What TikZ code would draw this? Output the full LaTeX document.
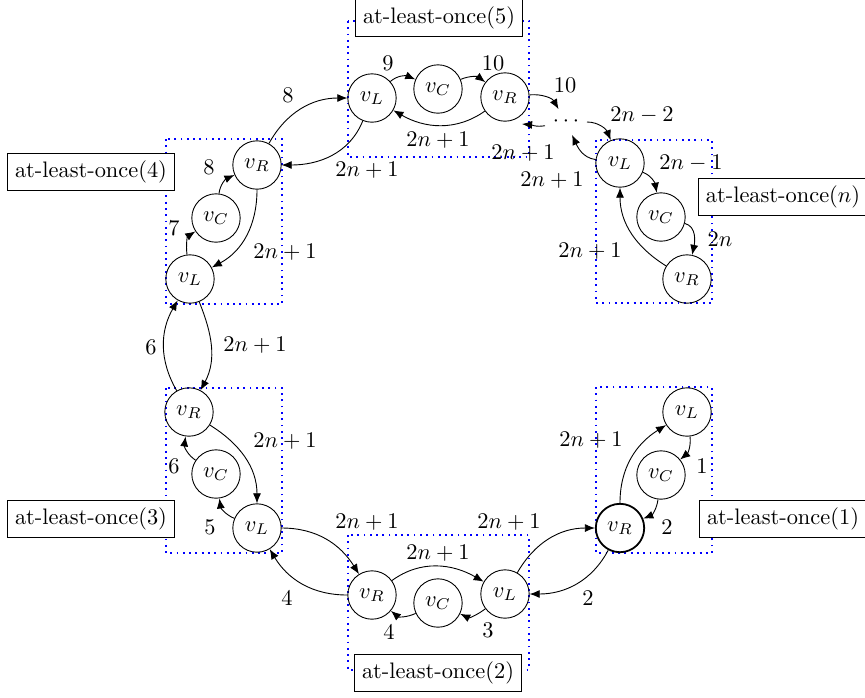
\documentclass[tikz,border=0pt]{standalone}
\usetikzlibrary{arrows.meta}
\begin{document}
\begin{tikzpicture}[x=0.4464pt,y=0.4464pt,
  st/.style={circle,draw,minimum size=21.6pt,inner sep=0pt},
  grp/.style={draw=blue,dotted,thick},
  tag/.style={draw,fill=white,rectangle,inner sep=3.33pt},
  arr/.style={-{Latex[length=4.5pt,width=3.6pt]}},
  lab/.style={inner sep=0pt}]
\useasboundingbox (0,0) rectangle (865,-697);
% group boxes
\draw[grp] (348,-21) rectangle (529,-157);
\draw[grp] (596,-140) rectangle (712,-303);
\draw[grp] (166,-139) rectangle (282,-304);
\draw[grp] (166,-388) rectangle (282,-553);
\draw[grp] (348,-535) rectangle (529,-670);
\draw[grp] (596,-387) rectangle (712,-553);
% tags
\node[tag] (t5) at (439,-18) {at-least-once(5)};
\node[tag] (tn) at (783,-197) {at-least-once($n$)};
\node[tag] (t4) at (91,-172) {at-least-once(4)};
\node[tag] (t3) at (91,-519) {at-least-once(3)};
\node[tag] (t2) at (438,-673) {at-least-once(2)};
\node[tag] (t1) at (783,-519) {at-least-once(1)};
% states
\node[st] (L5) at (372,-98) {$v_L$};
\node[st] (C5) at (438,-89) {$v_C$};
\node[st] (R5) at (505,-97) {$v_R$};
\node (dots) at (566,-122) {$\cdots$};
\node[st] (Ln) at (620,-163) {$v_L$};
\node[st] (Cn) at (661,-217) {$v_C$};
\node[st] (Rn) at (687,-279) {$v_R$};
\node[st] (R4) at (257,-165) {$v_R$};
\node[st] (C4) at (216,-218) {$v_C$};
\node[st] (L4) at (190,-279) {$v_L$};
\node[st] (R3) at (189,-412) {$v_R$};
\node[st] (C3) at (216,-474) {$v_C$};
\node[st] (L3) at (257,-528) {$v_L$};
\node[st] (R2) at (372,-595) {$v_R$};
\node[st] (C2) at (438,-603) {$v_C$};
\node[st] (L2) at (505,-594) {$v_L$};
\node[st,thick] (R1) at (620,-528) {$v_R$};
\node[st] (C1) at (661,-475) {$v_C$};
\node[st] (L1) at (687,-412) {$v_L$};
\coordinate (R5b) at (522,-124);
% group 5
\draw[arr] (L5) to[out=42,in=157] (C5);
\draw[arr] (C5) to[out=23,in=143] (R5);
\draw[arr] (R5) to[out=215,in=-30] (L5);
\draw[arr] (R4) to[out=61,in=180] (L5);
\draw[arr] (L5) to[out=248,in=0] (R4);
\draw[arr] (R5) to[out=5,in=120] (dots);
\draw[arr] (dots) to[out=190,in=-5] (R5b);
\draw[arr] (dots) to[out=0,in=112] (Ln);
\draw[arr] (Ln) to[out=172,in=-65] (dots);
% group n
\draw[arr] (Ln) to[out=-22,in=100] (Cn);
\draw[arr] (Cn) to[out=-15,in=78] (Rn);
\draw[arr] (Rn) to[out=148,in=-90] (Ln);
% group 4
\draw[arr] (L4) to[out=97,in=213] (C4);
\draw[arr] (C4) to[out=83,in=204] (R4);
\draw[arr] (R4) to[out=-90,in=28] (L4);
\draw[arr] (R3) to[out=120,in=240] (L4);
\draw[arr] (L4) to[out=-68,in=62] (R3);
% group 3
\draw[arr] (C3) to[out=146,in=-98] (R3);
\draw[arr] (L3) to[out=157,in=-82] (C3);
\draw[arr] (R3) to[out=-32,in=90] (L3);
\draw[arr] (L3) to[out=0,in=122] (R2);
\draw[arr] (R2) to[out=180,in=-59] (L3);
% group 2
\draw[arr] (R2) to[out=36,in=150] (L2);
\draw[arr] (L2) to[out=217,in=-26] (C2);
\draw[arr] (C2) to[out=205,in=-40] (R2);
\draw[arr] (L2) to[out=60,in=180] (R1);
\draw[arr] (R1) to[out=242,in=0] (L2);
% group 1
\draw[arr] (R1) to[out=90,in=212] (L1);
\draw[arr] (L1) to[out=-83,in=39] (C1);
\draw[arr] (C1) to[out=-97,in=22] (R1);
% labels
\node[lab] (a1) at (388,-63) {$9$};
\node[lab] (a2) at (493,-63) {$10$};
\node[lab] (a3) at (565,-85) {$10$};
\node[lab] (a4) at (438,-140) {$2n+1$};
\node[lab] (a5) at (523,-153) {$2n+1$};
\node[lab] (a6) at (367,-170) {$2n+1$};
\node[lab] (a7) at (642,-115) {$2n-2$};
\node[lab] (a8) at (552,-180) {$2n+1$};
\node[lab] (a9) at (691,-163) {$2n-1$};
\node[lab] (a10) at (720,-239) {$2n$};
\node[lab] (a11) at (590,-251) {$2n+1$};
\node[lab] (a12) at (288,-95) {$8$};
\node[lab] (a13) at (209,-167) {$8$};
\node[lab] (a14) at (174,-228) {$7$};
\node[lab] (a15) at (285,-252) {$2n+1$};
\node[lab] (a16) at (151,-347) {$6$};
\node[lab] (a17) at (255,-345) {$2n+1$};
\node[lab] (a18) at (285,-441) {$2n+1$};
\node[lab] (a19) at (174,-466) {$6$};
\node[lab] (a20) at (210,-527) {$5$};
\node[lab] (a21) at (287,-598) {$4$};
\node[lab] (a22) at (367,-522) {$2n+1$};
\node[lab] (a23) at (509,-522) {$2n+1$};
\node[lab] (a24) at (438,-553) {$2n+1$};
\node[lab] (a25) at (389,-632) {$4$};
\node[lab] (a26) at (488,-630) {$3$};
\node[lab] (a27) at (588,-598) {$2$};
\node[lab] (a28) at (591,-440) {$2n+1$};
\node[lab] (a29) at (702,-466) {$1$};
\node[lab] (a30) at (667,-527) {$2$};
\end{tikzpicture}
\end{document}
